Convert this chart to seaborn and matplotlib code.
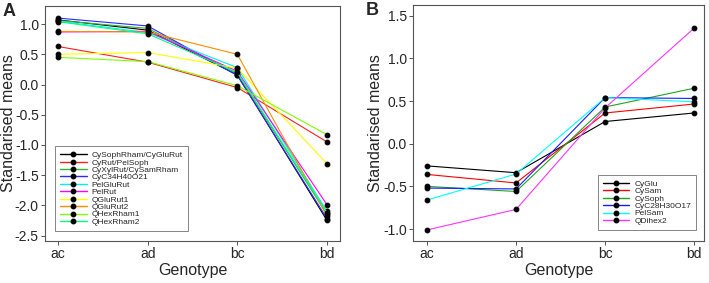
import numpy as np
import pandas as pd
import matplotlib
matplotlib.use("Agg")
import matplotlib.pyplot as plt
from matplotlib.lines import Line2D
import seaborn as sns

genotypes = ["ac", "ad", "bc", "bd"]

a_names = ["CySophRham/CyGluRut", "CyRut/PelSoph", "CyXylRut/CySamRham", "CyC34H40O21",
           "PelGluRut", "PelRut", "QGluRut1", "QGluRut2", "QHexRham1", "QHexRham2"]
a_colors = ["#000000", "#ff2020", "#33b533", "#2a2aff", "#00f0f0", "#ff00ff",
            "#ffff00", "#ff8c00", "#7fff00", "#00ff7f"]
a_values = [
    [1.07, 0.90, 0.16, -2.25],
    [0.63, 0.37, -0.05, -0.95],
    [1.06, 0.93, 0.18, -2.15],
    [1.10, 0.97, 0.15, -2.22],
    [1.05, 0.86, 0.28, -2.10],
    [0.87, 0.88, 0.22, -1.99],
    [0.50, 0.53, 0.27, -1.31],
    [0.88, 0.87, 0.50, -2.18],
    [0.45, 0.38, -0.02, -0.83],
    [1.04, 0.84, 0.20, -2.12],
]

b_names = ["CyGlu", "CySam", "CySoph", "CyC28H30O17", "PelSam", "QDihex2"]
b_colors = ["#000000", "#ff0000", "#1fa51f", "#1a1aff", "#00ffff", "#ff33ff"]
b_values = [
    [-0.26, -0.34, 0.26, 0.36],
    [-0.36, -0.46, 0.36, 0.465],
    [-0.50, -0.56, 0.43, 0.65],
    [-0.52, -0.53, 0.54, 0.53],
    [-0.66, -0.355, 0.54, 0.49],
    [-1.01, -0.77, 0.42, 1.355],
]

sns.set_theme(style="ticks")
plt.rcParams["font.family"] = ["Liberation Sans", "DejaVu Sans"]
plt.rcParams["axes.unicode_minus"] = False

def long_df(names, values):
    rows = []
    for n, vals in zip(names, values):
        for g, v in zip(genotypes, vals):
            rows.append({"series": n, "Genotype": g, "value": v})
    return pd.DataFrame(rows)

fig = plt.figure(figsize=(7.09, 2.83), dpi=100)
axA = fig.add_axes([45/709, 42/283, 295/709, 235/283])
axB = fig.add_axes([413/709, 42/283, 291/709, 236/283])

def draw(ax, names, values, colors, ylim, yticks, xlim, legend_anchor, legend_loc, ylab_x):
    df = long_df(names, values)
    sns.lineplot(data=df, x="Genotype", y="value", hue="series",
                 palette=dict(zip(names, colors)), hue_order=names,
                 estimator=None, sort=False, marker="o", markersize=3.4,
                 markerfacecolor="black", markeredgecolor="black",
                 linewidth=0.8, legend=False, ax=ax)
    ax.set_xlim(*xlim)
    ax.set_ylim(*ylim)
    ax.set_yticks(yticks)
    ax.set_yticklabels([f"{t:.1f}" for t in yticks])
    ax.set_xticks(range(len(genotypes)))
    ax.set_xticklabels(genotypes)
    ax.set_xlabel("Genotype", fontsize=11.5, labelpad=1)
    ax.set_ylabel("Standarised means", fontsize=11.5)
    ax.yaxis.set_label_coords(ylab_x, 0.5)
    ax.tick_params(axis="both", labelsize=10, length=3, width=0.7,
                   color="#555555", pad=1.5)
    for s in ax.spines.values():
        s.set_visible(True)
        s.set_color("#555555")
        s.set_linewidth(0.8)
    handles = [Line2D([], [], color=c, lw=1.0, marker="o", markersize=3.2,
                      markerfacecolor="black", markeredgecolor="black")
               for c in colors]
    leg = ax.legend(handles, names, loc=legend_loc, bbox_to_anchor=legend_anchor,
                    fontsize=6, frameon=True, fancybox=False, handlelength=3.2,
                    handletextpad=0.6, labelspacing=-0.05, borderpad=0.6,
                    borderaxespad=0)
    leg.get_frame().set_edgecolor("#666666")
    leg.get_frame().set_linewidth(0.7)

draw(axA, a_names, a_values, a_colors, (-2.59, 1.30),
     [-2.5, -2.0, -1.5, -1.0, -0.5, 0.0, 0.5, 1.0], (-0.145, 3.145),
     (0.034, 0.043), "lower left", (16 - 45) / 295)
draw(axB, b_names, b_values, b_colors, (-1.14, 1.625),
     [-1.0, -0.5, 0.0, 0.5, 1.0, 1.5], (-0.157, 3.11),
     (0.973, 0.047), "lower right", (383 - 413) / 291)

fig.text(3/709, 1 - 3/283, "A", fontsize=13, fontweight="bold", va="top", ha="left")
fig.text(366/709, 1 - 2/283, "B", fontsize=13, fontweight="bold", va="top", ha="left")

fig.savefig("out.png", dpi=100)
